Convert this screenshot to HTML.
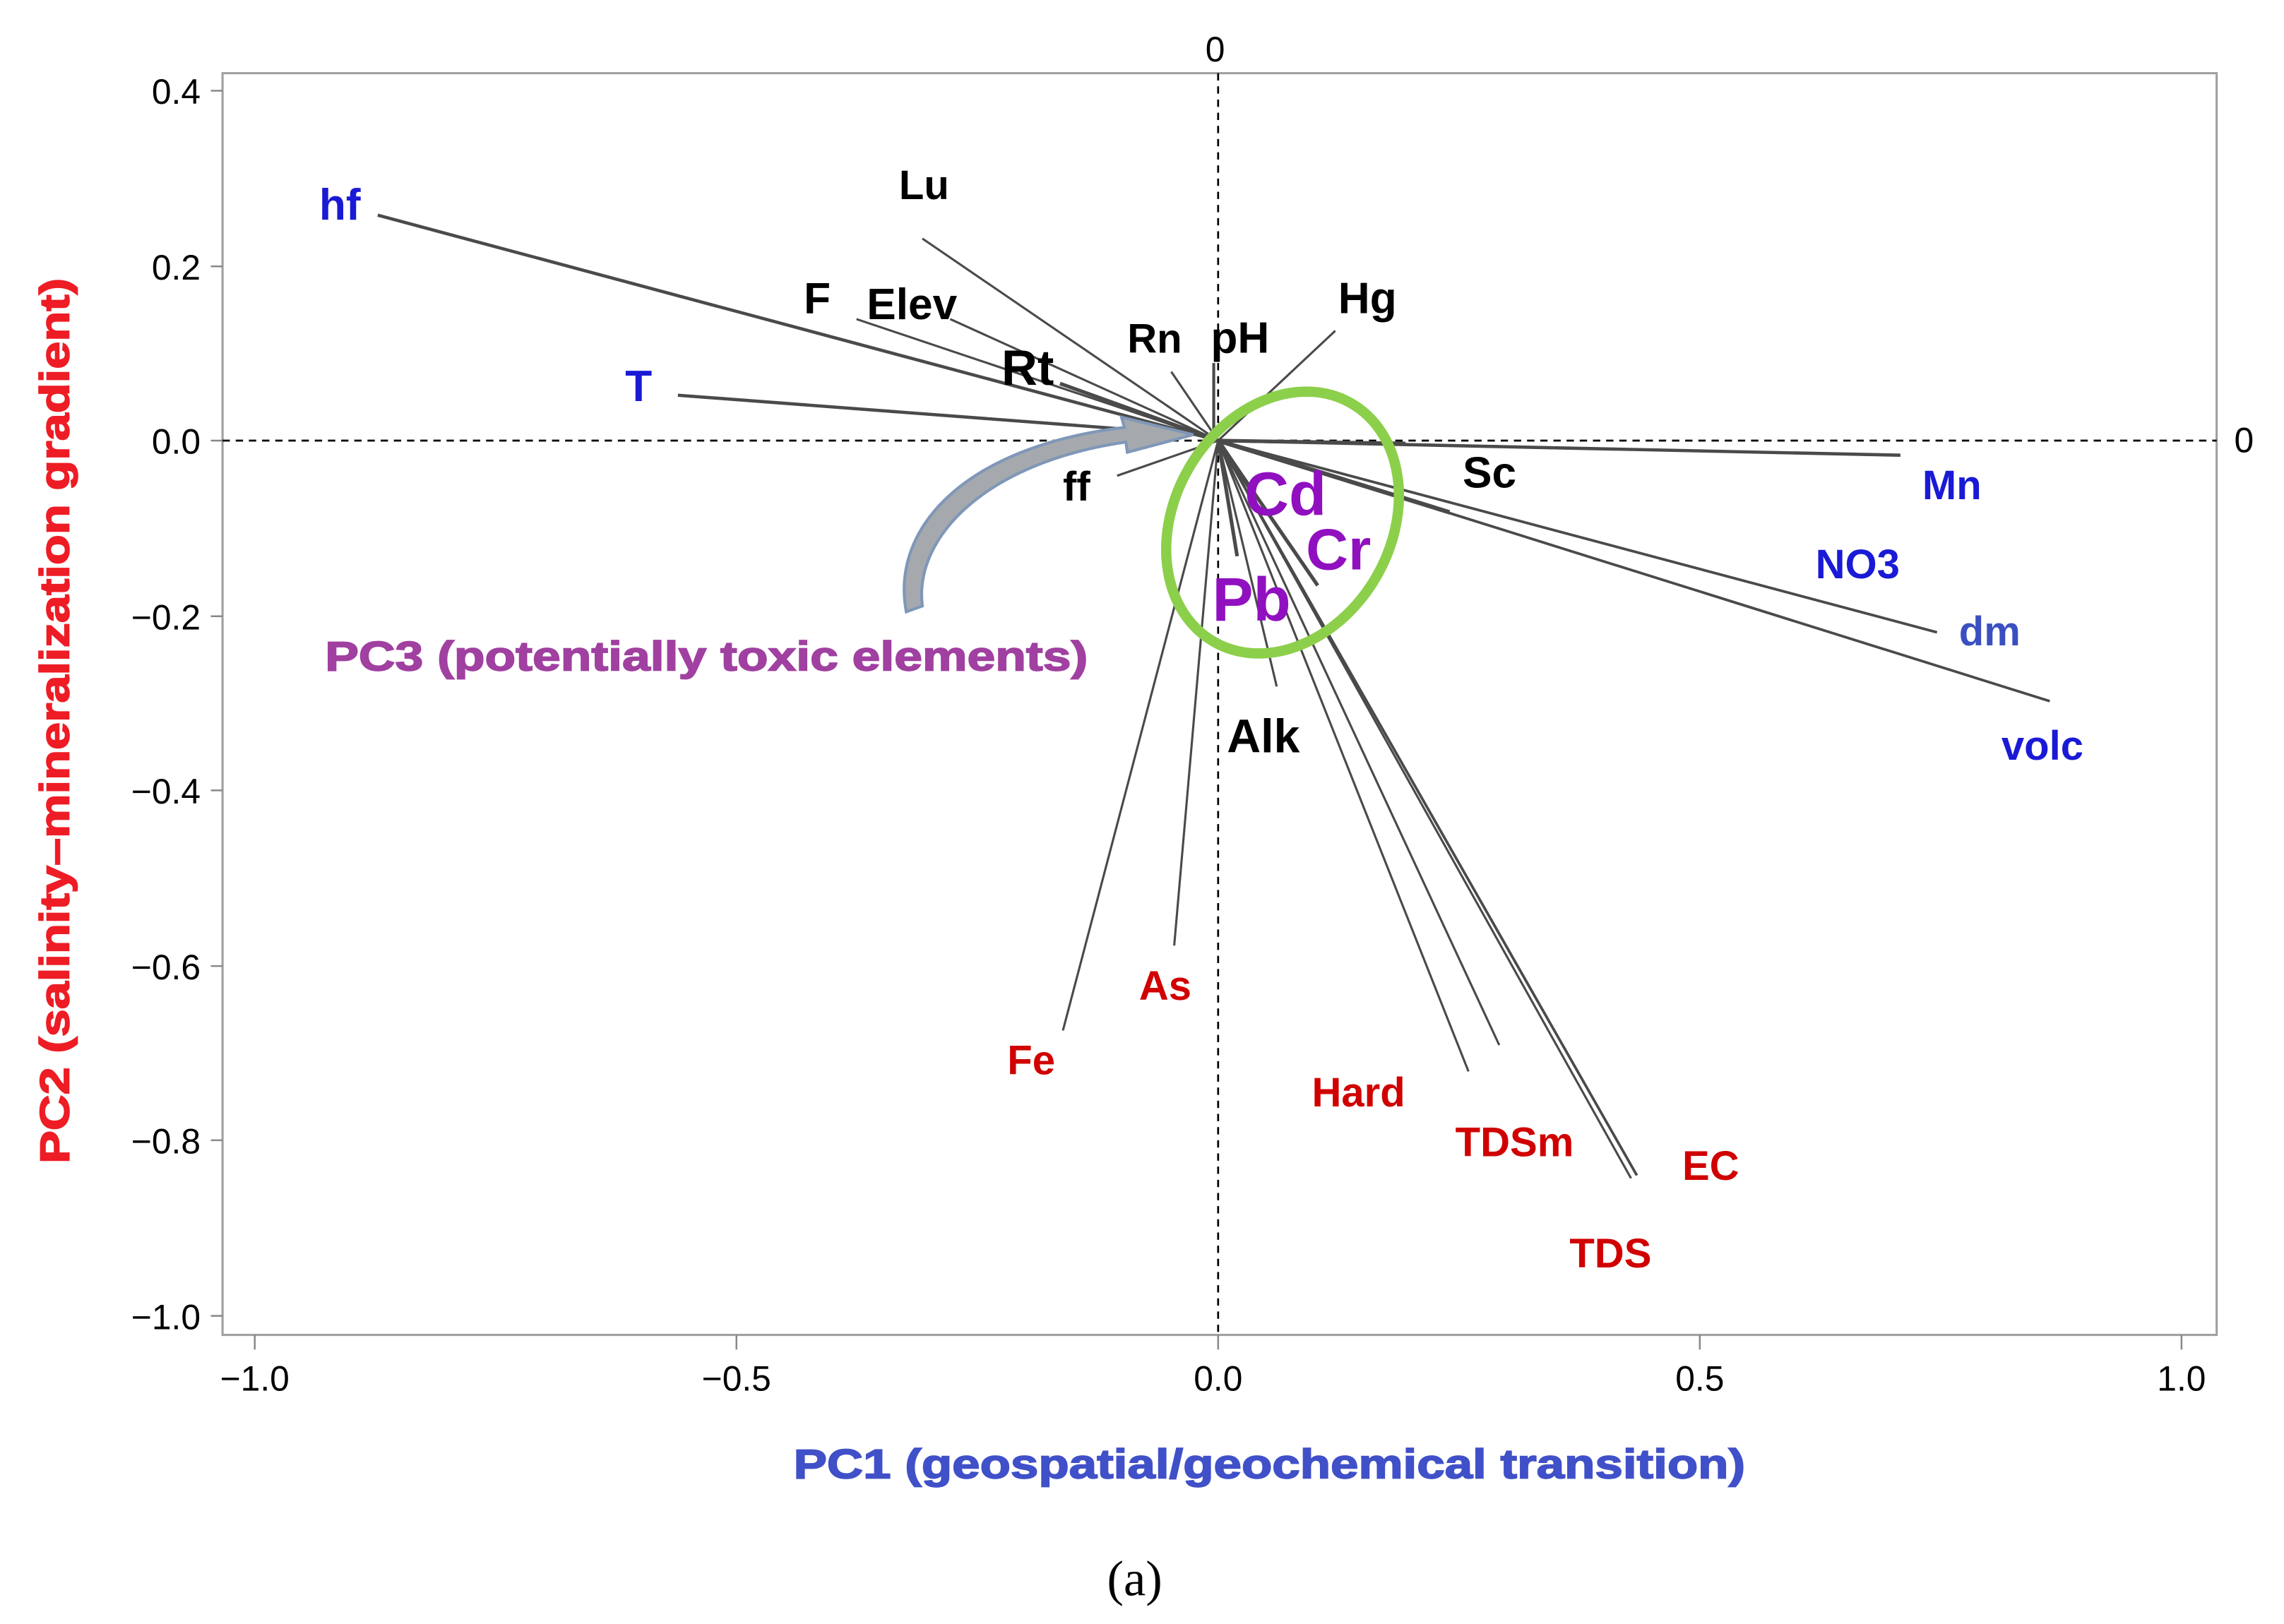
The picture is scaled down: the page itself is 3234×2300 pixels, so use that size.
<!DOCTYPE html>
<html><head><meta charset="utf-8"><style>
html,body{margin:0;padding:0;background:#fff;}
svg{display:block;}
text{font-family:"Liberation Sans",sans-serif;}
.b{font-weight:bold;}
</style></head><body>
<svg width="3234" height="2300" viewBox="0 0 1560 1109.5" preserveAspectRatio="none" xmlns="http://www.w3.org/2000/svg">
<rect x="0" y="0" width="1560" height="1110" fill="#fff"/>
<rect x="152" y="50" width="1362" height="862" fill="none" stroke="#a0a0a0" stroke-width="1.5"/>
<g stroke="#888" stroke-width="1.2">
<line x1="144" y1="62" x2="152" y2="62"/><line x1="144" y1="182" x2="152" y2="182"/><line x1="144" y1="301" x2="152" y2="301"/><line x1="144" y1="421" x2="152" y2="421"/><line x1="144" y1="540" x2="152" y2="540"/><line x1="144" y1="660" x2="152" y2="660"/><line x1="144" y1="779" x2="152" y2="779"/><line x1="144" y1="899" x2="152" y2="899"/>
<line x1="174" y1="912" x2="174" y2="922"/><line x1="503" y1="912" x2="503" y2="922"/><line x1="832" y1="912" x2="832" y2="922"/><line x1="1161" y1="912" x2="1161" y2="922"/><line x1="1490" y1="912" x2="1490" y2="922"/>
</g>
<g font-size="24" fill="#000" text-anchor="end">
<text x="137" y="71">0.4</text><text x="137" y="191">0.2</text><text x="137" y="310">0.0</text><text x="137" y="430">−0.2</text><text x="137" y="549">−0.4</text><text x="137" y="669">−0.6</text><text x="137" y="788">−0.8</text><text x="137" y="908">−1.0</text>
</g>
<g font-size="24" fill="#000" text-anchor="middle">
<text x="174" y="950">−1.0</text><text x="503" y="950">−0.5</text><text x="832" y="950">0.0</text><text x="1161" y="950">0.5</text><text x="1490" y="950">1.0</text>
<text x="830" y="42">0</text>
</g>
<text x="1526" y="309" font-size="24">0</text>
<line x1="152" y1="301" x2="1514" y2="301" stroke="#000" stroke-width="1.3" stroke-dasharray="5,4"/>
<line x1="832" y1="50" x2="832" y2="912" stroke="#000" stroke-width="1.3" stroke-dasharray="5,4"/>
<g stroke="#4a4a4a" stroke-width="1.5" fill="none">
<line x1="832" y1="301" x2="258" y2="147" stroke-width="2.2"/>
<line x1="832" y1="301" x2="630" y2="163"/>
<line x1="832" y1="301" x2="585" y2="218"/>
<line x1="832" y1="301" x2="649" y2="218"/>
<line x1="832" y1="301" x2="724" y2="262" stroke-width="2.5"/>
<line x1="832" y1="301" x2="800" y2="254"/>
<line x1="829" y1="301" x2="829" y2="248" stroke-width="2"/>
<line x1="832" y1="301" x2="912" y2="226"/>
<line x1="832" y1="298" x2="463" y2="270" stroke-width="2.2"/>
<line x1="832" y1="301" x2="763" y2="325"/>
<line x1="832" y1="301" x2="1298" y2="311" stroke-width="2.2"/>
<line x1="832" y1="301" x2="960" y2="303" stroke-width="2.5"/>
<line x1="832" y1="301" x2="1323" y2="432" stroke-width="1.8"/>
<line x1="832" y1="301" x2="1400" y2="479" stroke-width="1.8"/>
<line x1="832" y1="301" x2="990" y2="350" stroke-width="3"/>
<line x1="832" y1="301" x2="872" y2="469"/>
<line x1="832" y1="301" x2="726" y2="704"/>
<line x1="832" y1="301" x2="802" y2="646"/>
<line x1="832" y1="301" x2="1003" y2="732"/>
<line x1="832" y1="301" x2="1024" y2="714"/>
<line x1="832" y1="301" x2="1118" y2="803" stroke-width="1.8"/>
<line x1="832" y1="301" x2="1114" y2="805"/>
<line x1="832" y1="301" x2="858" y2="340" stroke-width="3"/>
<line x1="832" y1="301" x2="900" y2="400" stroke-width="2.5"/>
<line x1="832" y1="301" x2="845" y2="380" stroke-width="2.5"/>
</g>
<ellipse cx="876" cy="357" rx="74" ry="94" transform="rotate(30 876 357)" fill="none" stroke="#8ccf4a" stroke-width="7"/>
<path d="M619,418 C608,360 660,305 768,292 L766,285 L815,297 L770,309 L769,302 C672,316 624,368 630,414 Z" fill="#a5a9ad" stroke="#7f97b8" stroke-width="2"/>
<g class="b" font-size="30">
<text x="218" y="150" fill="#1a1ad6">hf</text>
<text x="614" y="136" fill="#000" font-size="28">Lu</text>
<text x="549" y="214" fill="#000">F</text>
<text x="592" y="218" fill="#000">Elev</text>
<text x="684" y="263" fill="#000" font-size="34">Rt</text>
<text x="770" y="241" fill="#000" font-size="28">Rn</text>
<text x="827" y="241" fill="#000">pH</text>
<text x="914" y="214" fill="#000">Hg</text>
<text x="427" y="274" fill="#1a1ad6">T</text>
<text x="726" y="342" fill="#000" font-size="28">ff</text>
<text x="999" y="333" fill="#000">Sc</text>
<text x="1313" y="341" fill="#1a1ad6" font-size="28">Mn</text>
<text x="1240" y="395" fill="#1a1ad6" font-size="28">NO3</text>
<text x="1338" y="441" fill="#3b50c0" font-size="28">dm</text>
<text x="1367" y="519" fill="#1a1ad6" font-size="28">volc</text>
<text x="838" y="514" fill="#000" font-size="32">Alk</text>
<text x="850" y="352" fill="#9010c0" font-size="42">Cd</text>
<text x="892" y="389" fill="#9010c0" font-size="40">Cr</text>
<text x="828" y="424" fill="#9010c0" font-size="42">Pb</text>
<text x="688" y="734" fill="#d00000" font-size="28">Fe</text>
<text x="778" y="683" fill="#d00000" font-size="28">As</text>
<text x="896" y="756" fill="#d00000" font-size="28">Hard</text>
<text x="994" y="790" fill="#d00000" font-size="28">TDSm</text>
<text x="1149" y="806" fill="#d00000" font-size="28">EC</text>
<text x="1072" y="866" fill="#d00000" font-size="28">TDS</text>
</g>
<text x="222" y="458" class="b" font-size="28" fill="#a040a0" textLength="521" lengthAdjust="spacingAndGlyphs" stroke="#a040a0" stroke-width="0.8">PC3 (potentially toxic elements)</text>
<text x="542" y="1010" class="b" font-size="28" fill="#4050c8" textLength="650" lengthAdjust="spacingAndGlyphs" stroke="#4050c8" stroke-width="0.8">PC1 (geospatial/geochemical transition)</text>
<text transform="translate(47 795) rotate(-90)" class="b" font-size="28" fill="#ee1c25" textLength="605" lengthAdjust="spacingAndGlyphs" stroke="#ee1c25" stroke-width="0.8">PC2 (salinity–mineralization gradient)</text>
<text x="775" y="1090" font-size="34" text-anchor="middle" fill="#000" style="font-family:'Liberation Serif',serif">(a)</text>
</svg>
</body></html>
